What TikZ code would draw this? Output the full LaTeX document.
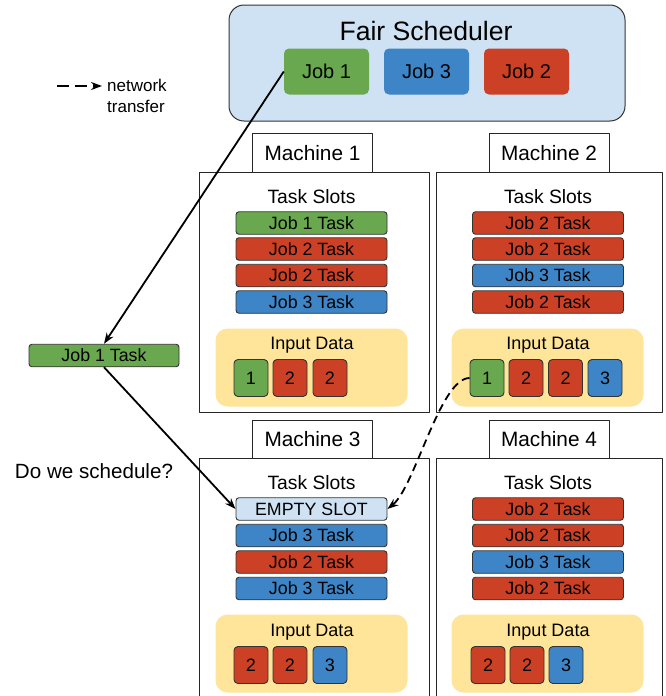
\documentclass[tikz,border=0pt]{standalone}
\usepackage{fontspec}
\setmainfont{Liberation Sans}
\usetikzlibrary{arrows.meta}
\definecolor{jobgreen}{HTML}{6AA84F}
\definecolor{jobred}{HTML}{CC4125}
\definecolor{jobblue}{HTML}{3D85C6}
\definecolor{schedblue}{HTML}{CFE2F3}
\definecolor{datayellow}{HTML}{FFE599}
\tikzset{
	fs/.style={font=\fontsize{#1}{#1}\selectfont},
	schedbox/.style={draw=black!80,line width=1pt,fill=schedblue,rounded corners=15pt,minimum width=396pt,minimum height=116pt},
	jobbox/.style={draw=none,rounded corners=5pt,minimum width=85pt,minimum height=46pt,inner sep=0pt,fs=20},
	machtab/.style={draw=black!85,line width=1pt,fill=white,minimum width=120pt,minimum height=39pt,inner sep=0pt,fs=20.8},
	machbox/.style={draw=black!85,line width=1pt,fill=white,inner sep=0pt},
	slotbar/.style={draw=black!80,line width=0.9pt,rounded corners=3pt,minimum width=151pt,minimum height=22.5pt,inner sep=0pt,fs=17.8},
	databox/.style={draw=none,fill=datayellow,rounded corners=12pt,minimum width=192pt,minimum height=78pt,inner sep=0pt},
	datasq/.style={draw=black!80,line width=0.9pt,rounded corners=4pt,minimum width=34pt,minimum height=37pt,inner sep=0pt,fs=18},
	label/.style={inner sep=0pt,fs=#1},
	flow/.style={line width=1.8pt,->},
	transfer/.style={line width=1.8pt,dash pattern=on 8pt off 5pt,->}
}
\begin{document}
\begin{tikzpicture}[line join=round,x=1pt,y=-1pt,>={Stealth[length=11pt,width=8pt]}]
		\useasboundingbox (0,0) rectangle (665,696);
		\clip (0,0) rectangle (665,696);
		% scheduler
		\node[schedbox] (fair) at (427,63) {};
		\node[label=26.6] (fairtitle) at (426,31) {Fair Scheduler};
		\node[jobbox,fill=jobgreen] (sj1) at (326.5,71.5) {Job 1};
		\node[jobbox,fill=jobblue] (sj3) at (426.5,71.5) {Job 3};
		\node[jobbox,fill=jobred] (sj2) at (526.5,71.5) {Job 2};
		% legend
		\coordinate (legA) at (57,86);
		\coordinate (legB) at (102,86);
		\draw[line width=1.8pt,dash pattern=on 12pt off 6pt,->] (legA) -- (legB);
		\node[label=17,anchor=west,align=left] (legtxt) at (107,96) {network\\[4pt]transfer};
		% machine 1
		\node[machtab] (m1tab) at (312.5,153) {Machine 1};
		\node[machbox,minimum width=230pt,minimum height=240pt] (m1) at (314,292) {};
		\node[label=19.3] (m1slots) at (311.5,197) {Task Slots};
		\node[slotbar,fill=jobgreen] (m1s1) at (311.5,223) {Job 1 Task};
		\node[slotbar,fill=jobred] (m1s2) at (311.5,249) {Job 2 Task};
		\node[slotbar,fill=jobred] (m1s3) at (311.5,275.5) {Job 2 Task};
		\node[slotbar,fill=jobblue] (m1s4) at (311.5,302) {Job 3 Task};
		\node[databox] (m1in) at (311.5,367.5) {};
		\node[label=18] (m1intxt) at (312,345) {Input Data};
		\node[datasq,fill=jobgreen] (m1d1) at (251,378) {1};
		\node[datasq,fill=jobred] (m1d2) at (290,378) {2};
		\node[datasq,fill=jobred] (m1d3) at (330,378) {2};
		% machine 2
		\node[machtab] (m2tab) at (549,153) {Machine 2};
		\node[machbox,minimum width=226pt,minimum height=240pt] (m2) at (549,292) {};
		\node[label=19.3] (m2slots) at (548,197) {Task Slots};
		\node[slotbar,fill=jobred] (m2s1) at (548,223) {Job 2 Task};
		\node[slotbar,fill=jobred] (m2s2) at (548,249) {Job 2 Task};
		\node[slotbar,fill=jobblue] (m2s3) at (548,275.5) {Job 3 Task};
		\node[slotbar,fill=jobred] (m2s4) at (548,302) {Job 2 Task};
		\node[databox] (m2in) at (547.5,367.5) {};
		\node[label=18] (m2intxt) at (548,345) {Input Data};
		\node[datasq,fill=jobgreen] (m2d1) at (487,378) {1};
		\node[datasq,fill=jobred] (m2d2) at (526,378) {2};
		\node[datasq,fill=jobred] (m2d3) at (565.5,378) {2};
		\node[datasq,fill=jobblue] (m2d4) at (605,378) {3};
		% machine 3
		\node[machtab] (m3tab) at (312.5,439.5) {Machine 3};
		\node[machbox,minimum width=230pt,minimum height=260pt] (m3) at (314,588) {};
		\node[label=19.3] (m3slots) at (311.5,483) {Task Slots};
		\node[slotbar,fill=schedblue] (empty) at (311.5,509) {EMPTY SLOT};
		\node[slotbar,fill=jobblue] (m3s2) at (311.5,535.5) {Job 3 Task};
		\node[slotbar,fill=jobred] (m3s3) at (311.5,562) {Job 2 Task};
		\node[slotbar,fill=jobblue] (m3s4) at (311.5,588.5) {Job 3 Task};
		\node[databox] (m3in) at (311.5,653.5) {};
		\node[label=18] (m3intxt) at (312,632) {Input Data};
		\node[datasq,fill=jobred] (m3d1) at (251,665) {2};
		\node[datasq,fill=jobred] (m3d2) at (290,665) {2};
		\node[datasq,fill=jobblue] (m3d3) at (330,665) {3};
		% machine 4
		\node[machtab] (m4tab) at (549,439.5) {Machine 4};
		\node[machbox,minimum width=226pt,minimum height=260pt] (m4) at (549,588) {};
		\node[label=19.3] (m4slots) at (548,483) {Task Slots};
		\node[slotbar,fill=jobred] (m4s1) at (548,509) {Job 2 Task};
		\node[slotbar,fill=jobred] (m4s2) at (548,535.5) {Job 2 Task};
		\node[slotbar,fill=jobblue] (m4s3) at (548,562) {Job 3 Task};
		\node[slotbar,fill=jobred] (m4s4) at (548,588.5) {Job 2 Task};
		\node[databox] (m4in) at (547.5,653.5) {};
		\node[label=18] (m4intxt) at (548,632) {Input Data};
		\node[datasq,fill=jobred] (m4d1) at (488,665) {2};
		\node[datasq,fill=jobred] (m4d2) at (527,665) {2};
		\node[datasq,fill=jobblue] (m4d3) at (566,665) {3};
		% pending task
		\node[slotbar,fill=jobgreen,minimum width=150pt] (task1) at (104,355.5) {Job 1 Task};
		\node[label=20.6] (ask) at (94,471) {Do we schedule?};
		% arrows
		\draw[flow] (sj1.west) -- (task1.north);
		\draw[flow] (task1.south) -- (empty.west);
		\draw[transfer] (m2d1.west) .. controls (440,378) and (415,487) .. (empty.east);
	\end{tikzpicture}
\end{document}
